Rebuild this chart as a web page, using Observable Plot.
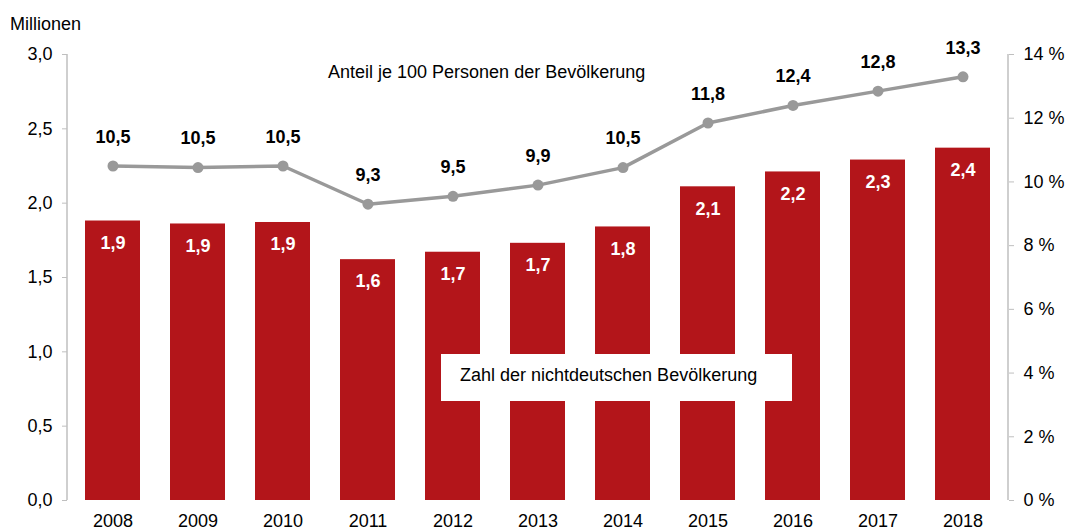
<!DOCTYPE html>
<html>
<head>
<meta charset="utf-8">
<script src="https://cdn.jsdelivr.net/npm/d3@7"></script>
<script src="https://cdn.jsdelivr.net/npm/@observablehq/plot@0.6"></script>
<style>
  body { margin: 0; background: white; font-family: "Liberation Sans", Arial, sans-serif; }
  #wrap { position: relative; width: 1066px; height: 531px; }
  .lbl { position: absolute; font-size: 18px; line-height: 18px; color: #000; white-space: nowrap; }
  #legendBox { position: absolute; left: 441px; top: 354px; width: 351px; height: 47px; background: white; }
</style>
</head>
<body>
<div id="wrap">
  <div id="chart"></div>
  <div class="lbl" style="left:10px; top:15px;">Millionen</div>
  <div class="lbl" style="left:328px; top:63px;">Anteil je 100 Personen der Bevölkerung</div>
  <div id="legendBox"><div class="lbl" style="left:19px; top:12px;">Zahl der nichtdeutschen Bevölkerung</div></div>
</div>
<script>
const years = ["2008","2009","2010","2011","2012","2013","2014","2015","2016","2017","2018"];
const millions = [1.88, 1.86, 1.87, 1.62, 1.67, 1.73, 1.84, 2.11, 2.21, 2.29, 2.37];
const millionLabels = ["1,9","1,9","1,9","1,6","1,7","1,7","1,8","2,1","2,2","2,3","2,4"];
const share = [10.5, 10.45, 10.5, 9.3, 9.55, 9.9, 10.45, 11.85, 12.4, 12.85, 13.3];
const shareLabels = ["10,5","10,5","10,5","9,3","9,5","9,9","10,5","11,8","12,4","12,8","13,3"];
const leftTicks = [0, 0.5, 1, 1.5, 2, 2.5, 3];
const rightTicks = [0, 2, 4, 6, 8, 10, 12, 14];

const leftMax = 3, rightMax = 14;
const toLeft = p => p * leftMax / rightMax;

const rows = years.map((y, i) => ({year: y, m: millions[i], ml: millionLabels[i], s: share[i], sl: shareLabels[i]}));

const barColor = "#b3151a";
const lineColor = "#999999";
const axisColor = "#bfbfbf";

const chart = Plot.plot({
  width: 1066,
  height: 531,
  marginLeft: 67,
  marginRight: 58,
  marginTop: 54,
  marginBottom: 31,
  style: {fontFamily: "Liberation Sans, Arial, sans-serif", fontSize: "18px", color: "#000", background: "white"},
  x: {domain: years, paddingInner: 0.356, paddingOuter: 0.186, label: null},
  y: {domain: [0, leftMax], label: null},
  marks: [
    Plot.barY(rows, {x: "year", y: "m", fill: barColor}),
    Plot.axisY(leftTicks, {anchor: "left", tickSize: 5, tickPadding: 10, stroke: axisColor, fill: "#000", label: null,
      tickFormat: d => d.toFixed(1).replace(".", ",")}),
    Plot.axisY(rightTicks.map(toLeft), {anchor: "right", tickSize: 5, tickPadding: 10, stroke: axisColor, fill: "#000", label: null,
      tickFormat: d => Math.round(d * rightMax / leftMax) + " %"}),
    Plot.axisX({tickSize: 0, tickPadding: 14, fill: "#000", label: null}),
    Plot.line(rows, {x: "year", y: d => toLeft(d.s), stroke: lineColor, strokeWidth: 3.5}),
    Plot.dot(rows, {x: "year", y: d => toLeft(d.s), r: 5.5, fill: lineColor}),
    Plot.text(rows, {x: "year", y: "m", text: "ml", dy: 22, fill: "white", fontWeight: "bold", fontSize: 18}),
    Plot.text(rows, {x: "year", y: d => toLeft(d.s), text: "sl", dy: -29, fill: "#000", fontWeight: "bold", fontSize: 18})
  ]
});
document.getElementById("chart").appendChild(chart);

// vertical axis lines at both frame edges, positioned from Plot's own scales
const xr = chart.scale("x").range;
const yr = chart.scale("y").range;
const svg = d3.select(chart);
[xr[0], xr[1]].forEach(xp => {
  svg.append("line")
    .attr("x1", xp).attr("x2", xp)
    .attr("y1", yr[0]).attr("y2", yr[1])
    .attr("stroke", axisColor).attr("stroke-width", 1.5);
});
</script>
</body>
</html>
